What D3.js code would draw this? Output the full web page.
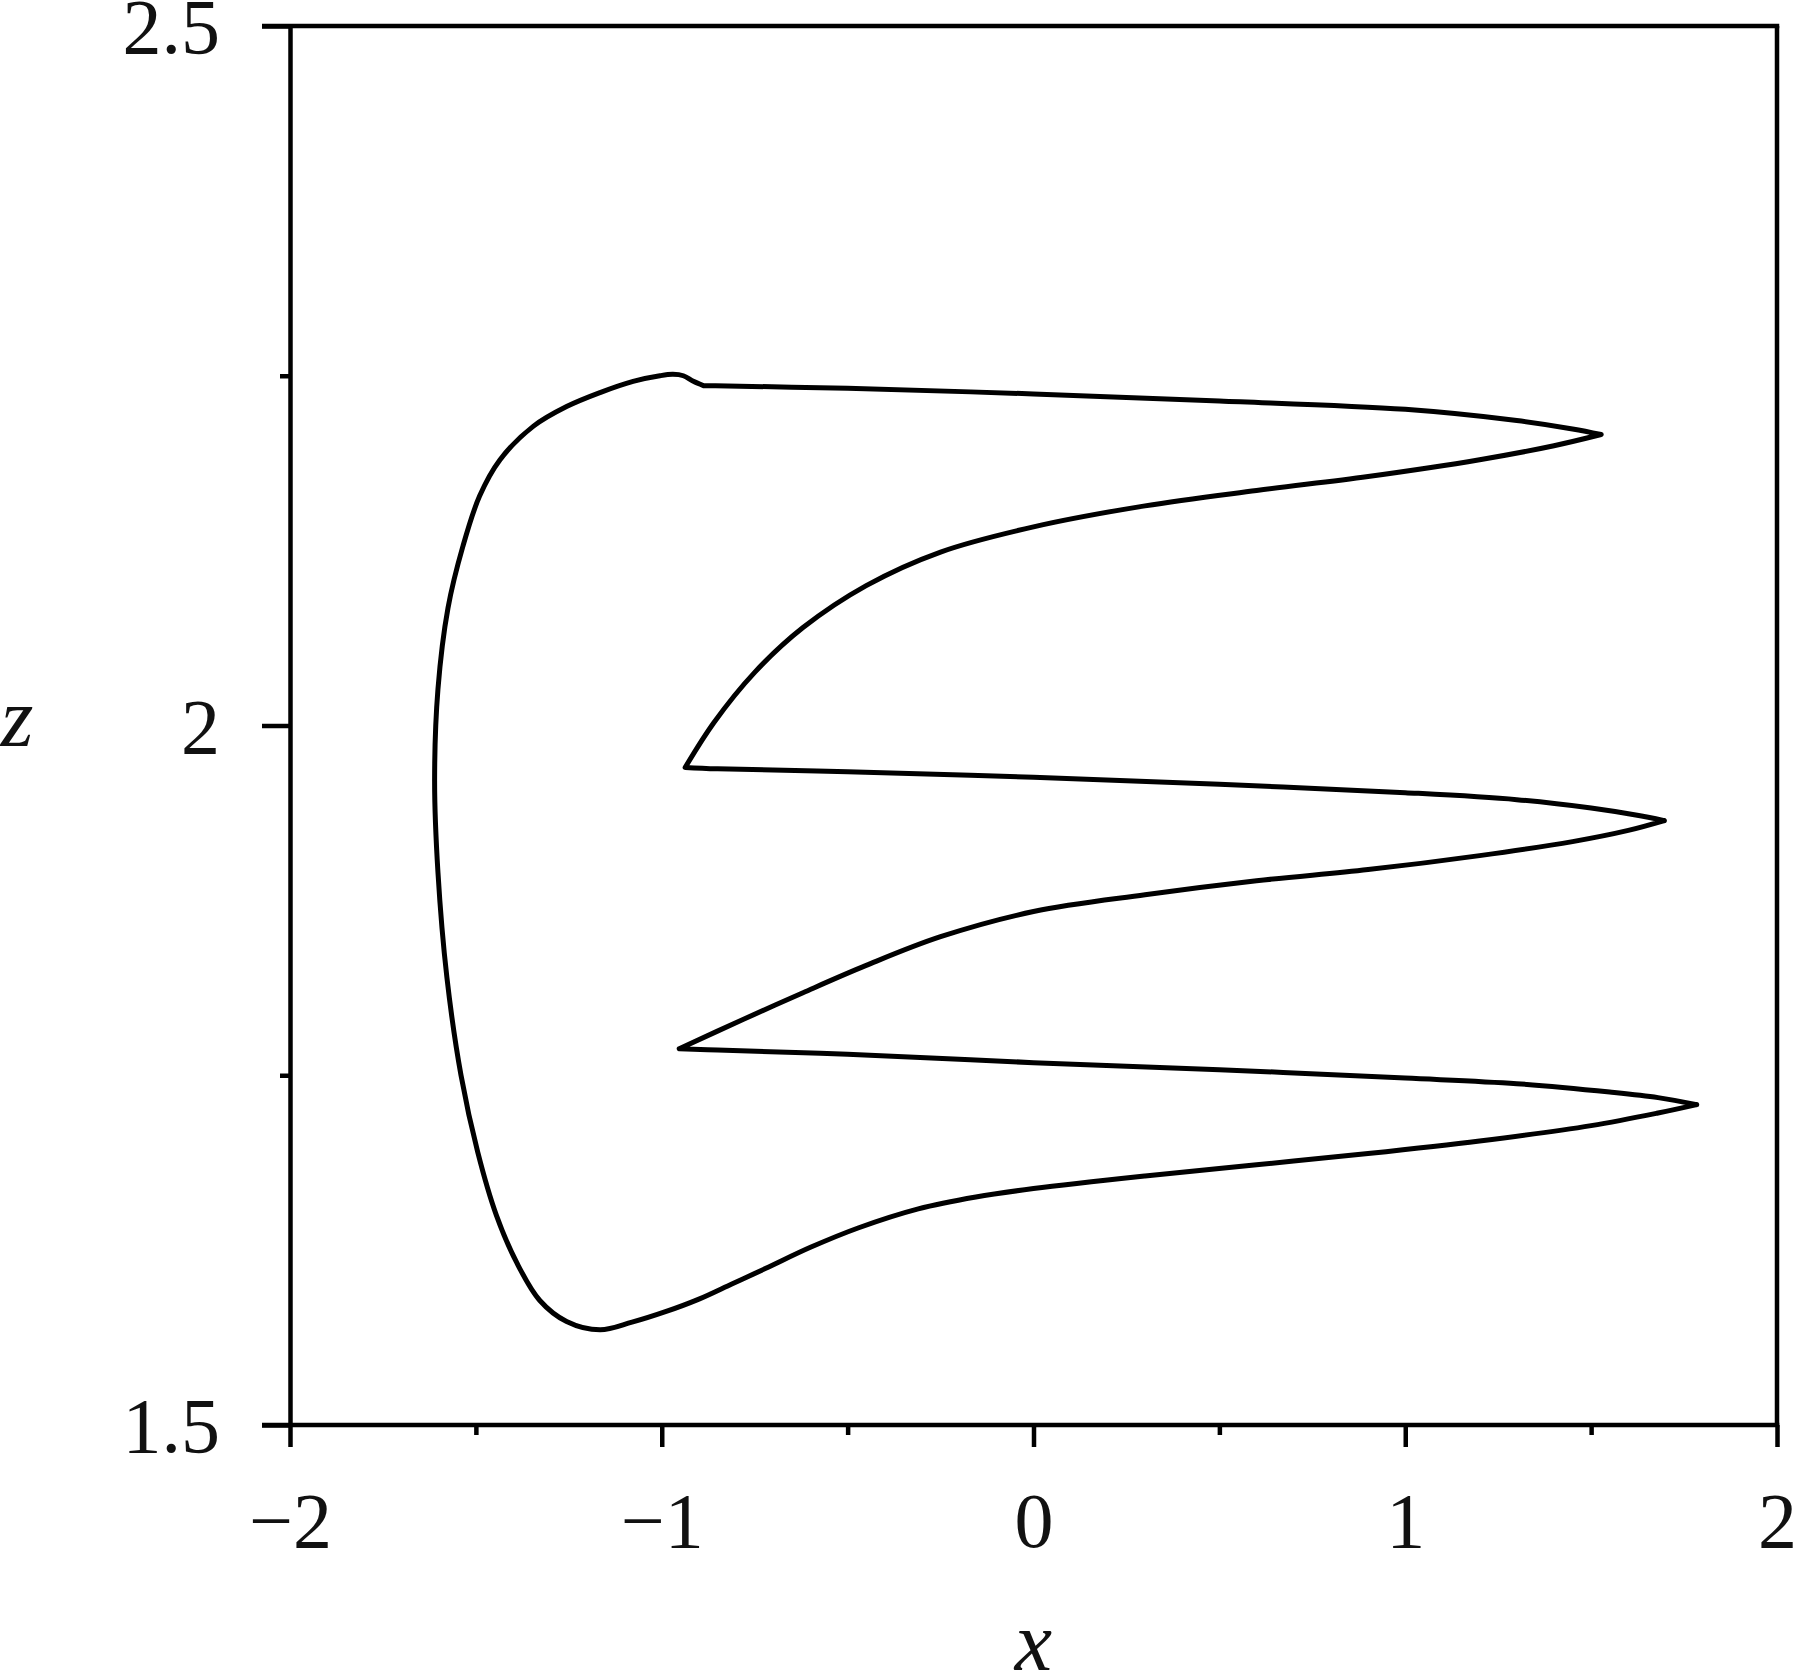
<!DOCTYPE html>
<html>
<head>
<meta charset="utf-8">
<script src="https://cdn.jsdelivr.net/npm/d3@7/dist/d3.min.js"></script>
<style>
  html, body { margin: 0; padding: 0; background: #fff; }
  svg { display: block; }
</style>
</head>
<body>
<svg id="chart" width="1800" height="1672"></svg>
<script>
// Trajectory (x, z)
const trajX = [
  // top arm, outward
  -0.888, -0.50, 0.00, 0.50, 1.00, 1.30, 1.45, 1.527,
  // top arm, return to first cusp
  1.40, 1.20, 0.90, 0.60, 0.30, 0.00, -0.25, -0.45, -0.62, -0.75, -0.86, -0.937,
  // middle arm, outward
  -0.85, -0.50, 0.00, 0.50, 1.00, 1.30, 1.50, 1.62, 1.697,
  // middle arm, return to second cusp
  1.60, 1.45, 1.20, 0.90, 0.60, 0.30, 0.00, -0.25, -0.45, -0.62, -0.78, -0.953,
  // bottom arm, outward
  -0.85, -0.50, 0.00, 0.50, 1.00, 1.30, 1.55, 1.68, 1.784,
  // bottom arm, return
  1.68, 1.50, 1.20, 0.90, 0.60, 0.30, 0.00, -0.155, -0.31, -0.47, -0.60, -0.72, -0.81, -0.90, -0.99, -1.08, -1.166,
  // left loop back to the top
  -1.256, -1.328, -1.390, -1.445, -1.495, -1.540, -1.578, -1.602, -1.611, -1.602, -1.575, -1.535,
  -1.490, -1.435, -1.345, -1.256, -1.166, -1.077, -1.005, -0.970, -0.942, -0.915, -0.888
];
const trajZ = [
  2.243, 2.241, 2.237, 2.232, 2.226, 2.218, 2.212, 2.208,
  2.200, 2.190, 2.178, 2.168, 2.157, 2.142, 2.124, 2.100, 2.070, 2.038, 2.002, 1.970,
  1.969, 1.967, 1.963, 1.958, 1.952, 1.947, 1.941, 1.936, 1.932,
  1.925, 1.917, 1.907, 1.897, 1.889, 1.879, 1.867, 1.849, 1.8285, 1.809, 1.790, 1.769,
  1.768, 1.765, 1.759, 1.754, 1.748, 1.744, 1.738, 1.734, 1.729,
  1.723, 1.714, 1.703, 1.694, 1.686, 1.678, 1.669, 1.663, 1.6545, 1.641, 1.627, 1.612, 1.601, 1.590, 1.581, 1.5735, 1.568,
  1.574, 1.589, 1.616, 1.650, 1.695, 1.750, 1.820, 1.895, 1.960, 2.026, 2.084, 2.128,
  2.164, 2.190, 2.214, 2.228, 2.238, 2.246, 2.250, 2.251, 2.250, 2.246, 2.243
];

const xTicksMajor = [-2, -1, 0, 1, 2];
const xTickLabels = ["\u22122", "\u22121", "0", "1", "2"];
const xTicksMinor = [-1.5, -0.5, 0.5, 1.5];
const yTicksMajor = [1.5, 2, 2.5];
const yTickLabels = ["1.5", "2", "2.5"];
const yTicksMinor = [1.75, 2.25];
const xTitle = "x";
const yTitle = "z";

const svg = d3.select("#chart");
const x = d3.scaleLinear().domain([-2, 2]).range([290, 1777]);
const y = d3.scaleLinear().domain([1.5, 2.5]).range([1425, 26]);
const font = "'Liberation Serif', 'Times New Roman', serif";
const sw = 4.5;
const fs = 78;

// frame: top and right
svg.append("line").attr("x1", x(-2) - 28).attr("x2", x(2) + sw / 2).attr("y1", y(2.5)).attr("y2", y(2.5))
  .attr("stroke", "#000").attr("stroke-width", sw);
svg.append("line").attr("x1", x(2)).attr("x2", x(2)).attr("y1", y(2.5)).attr("y2", y(1.5))
  .attr("stroke", "#000").attr("stroke-width", sw);

// bottom axis
const gx = svg.append("g").attr("transform", `translate(0,${y(1.5)})`);
gx.call(d3.axisBottom(x).tickValues(xTicksMajor).tickSize(22).tickSizeOuter(0)
  .tickFormat((d, i) => xTickLabels[i]));
gx.append("g").call(d3.axisBottom(x).tickValues(xTicksMinor).tickSize(10).tickSizeOuter(0).tickFormat(""))
  .select(".domain").remove();
gx.selectAll(".domain").attr("stroke-width", sw).attr("d", `M${x(-2) - 28},0H${x(2) + sw / 2}`);
gx.selectAll("line").attr("stroke-width", sw);
gx.selectAll("text").attr("font-family", font).attr("font-size", fs).attr("fill", "#111")
  .attr("y", 0).attr("dy", null).attr("transform", "translate(0,122)");

// left axis
const gy = svg.append("g").attr("transform", `translate(${x(-2)},0)`);
gy.call(d3.axisLeft(y).tickValues(yTicksMajor).tickSize(28).tickSizeOuter(0)
  .tickFormat((d, i) => yTickLabels[i]));
gy.append("g").call(d3.axisLeft(y).tickValues(yTicksMinor).tickSize(10).tickSizeOuter(0).tickFormat(""))
  .select(".domain").remove();
gy.selectAll(".domain").attr("stroke-width", sw);
gy.selectAll("line").attr("stroke-width", sw);
gy.selectAll("text").attr("font-family", font).attr("font-size", fs).attr("fill", "#111")
  .attr("x", -70).attr("dy", "0.34em");

// axis titles
svg.append("text").attr("x", x(0)).attr("y", 1670).attr("text-anchor", "middle")
  .attr("font-family", font).attr("font-style", "italic").attr("font-size", 84).attr("fill", "#111").text(xTitle);
svg.append("text").attr("x", 17).attr("y", 746).attr("text-anchor", "middle")
  .attr("font-family", font).attr("font-style", "italic").attr("font-size", 84).attr("fill", "#111").text(yTitle);

// trajectory: split into smooth pieces at sharp turns (cusps and tips)
const pts = trajX.map((d, i) => [x(d), y(trajZ[i])]);
const pieces = [];
let cur = [pts[0]];
for (let i = 1; i < pts.length; i++) {
  cur.push(pts[i]);
  if (i < pts.length - 1) {
    const a = [pts[i][0] - pts[i - 1][0], pts[i][1] - pts[i - 1][1]];
    const b = [pts[i + 1][0] - pts[i][0], pts[i + 1][1] - pts[i][1]];
    const cos = (a[0] * b[0] + a[1] * b[1]) / (Math.hypot(...a) * Math.hypot(...b));
    if (cos < -0.3) { pieces.push(cur); cur = [pts[i]]; }
  }
}
pieces.push(cur);
const line = d3.line().curve(d3.curveCatmullRom.alpha(0.5));
svg.append("path").attr("d", pieces.map(p => line(p)).join(""))
  .attr("fill", "none").attr("stroke", "#000").attr("stroke-width", 5)
  .attr("stroke-linejoin", "miter").attr("stroke-miterlimit", 4).attr("stroke-linecap", "round");
</script>
</body>
</html>
